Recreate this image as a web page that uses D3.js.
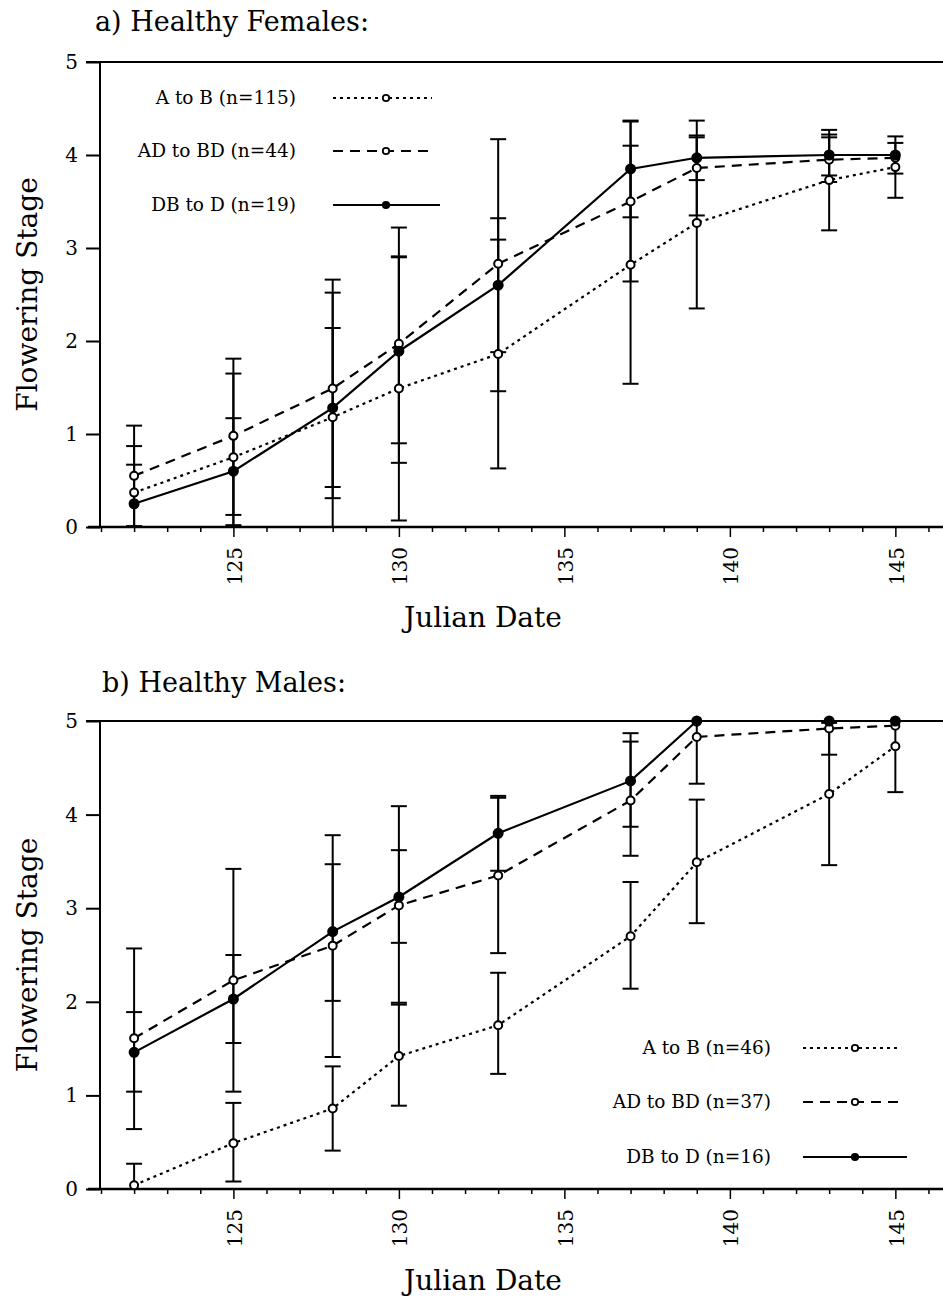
<!DOCTYPE html>
<html>
<head>
<meta charset="utf-8">
<script src="https://cdn.jsdelivr.net/npm/d3@7"></script>
<style>
  body { margin: 0; background: #fff; }
  svg text { font-family: "DejaVu Serif", serif; fill: #000; }
</style>
</head>
<body>
<svg id="chart" width="943" height="1301"></svg>
<script>
// Julian dates sampled
const days = [122, 125, 128, 130, 133, 137, 139, 143, 145];
const yTicks = [0, 1, 2, 3, 4, 5];
const xMajor = [125, 130, 135, 140, 145];

// a) Healthy Females: means and error-bar ends
const femAB = [0.37, 0.75, 1.18, 1.49, 1.86, 2.82, 3.27, 3.73, 3.87];
const femABlo = [-0.13, -0.15, -0.16, 0.07, 0.63, 1.54, 2.35, 3.19, 3.54];
const femABhi = [0.87, 1.65, 2.52, 2.91, 3.09, 4.10, 4.19, 4.27, 4.20];
const femAD = [0.55, 0.98, 1.49, 1.97, 2.83, 3.50, 3.86, 3.95, 3.97];
const femADlo = [0.01, 0.13, 0.31, 0.69, 1.46, 2.64, 3.35, 3.71, 3.80];
const femADhi = [1.09, 1.81, 2.66, 3.22, 4.17, 4.36, 4.37, 4.19, 4.13];
const femDB = [0.25, 0.60, 1.28, 1.89, 2.60, 3.85, 3.97, 4.00, 4.00];
const femDBlo = [-0.17, 0.02, 0.43, 0.90, 1.88, 3.33, 3.73, 3.78, 4.00];
const femDBhi = [0.67, 1.17, 2.14, 2.90, 3.32, 4.37, 4.21, 4.22, 4.00];
const femLabels = ["A to B (n=115)", "AD to BD (n=44)", "DB to D (n=19)"];

// b) Healthy Males
const malAB = [0.04, 0.49, 0.86, 1.42, 1.75, 2.70, 3.49, 4.22, 4.73];
const malABlo = [-0.19, 0.08, 0.41, 0.89, 1.23, 2.14, 2.84, 3.46, 4.24];
const malABhi = [0.27, 0.92, 1.31, 1.99, 2.31, 3.28, 4.16, 4.98, 5.22];
const malAD = [1.61, 2.23, 2.60, 3.03, 3.35, 4.15, 4.83, 4.92, 4.95];
const malADlo = [0.64, 1.04, 1.41, 1.97, 2.52, 3.56, 4.33, 4.64, 4.95];
const malADhi = [2.57, 3.42, 3.78, 4.09, 4.18, 4.78, 5.33, 5.20, 4.95];
const malDB = [1.46, 2.03, 2.75, 3.12, 3.80, 4.36, 5.00, 5.00, 5.00];
const malDBlo = [1.04, 1.56, 2.01, 2.63, 3.40, 3.87, 5.00, 5.00, 5.00];
const malDBhi = [1.89, 2.50, 3.47, 3.62, 4.20, 4.87, 5.00, 5.00, 5.00];
const malLabels = ["A to B (n=46)", "AD to BD (n=37)", "DB to D (n=16)"];

// line style per series (dotted / dashed / solid)
const styles = [
  { dash: "3,4", fill: "#fff" },
  { dash: "10,7", fill: "#fff" },
  { dash: null, fill: "#000" }
];

const svg = d3.select("#chart");
svg.append("rect").attr("width", 943).attr("height", 1301).attr("fill", "#fff");

const x = d3.scaleLinear().domain([121, 146.5]).range([101, 945]);

const panels = [
  {
    title: "a) Healthy Females:", titleX: 95, titleY: 31, top: 62, bottom: 527, xTitleY: 627,
    series: [[femAB, femABlo, femABhi], [femAD, femADlo, femADhi], [femDB, femDBlo, femDBhi]],
    labels: femLabels, legTextX: 296, legX0: 333, legX1: 440, legMark: 386, legRows: [98, 151, 205]
  },
  {
    title: "b) Healthy Males:", titleX: 102, titleY: 692, top: 721, bottom: 1189, xTitleY: 1290,
    series: [[malAB, malABlo, malABhi], [malAD, malADlo, malADhi], [malDB, malDBlo, malDBhi]],
    labels: malLabels, legTextX: 771, legX0: 803, legX1: 907, legMark: 855, legRows: [1048, 1102, 1157]
  }
];

panels.forEach(p => {
  const y = d3.scaleLinear().domain([0, 5]).range([p.bottom, p.top]);
  const g = svg.append("g");

  // title
  g.append("text").attr("x", p.titleX).attr("y", p.titleY)
    .style("font-size", "27px").text(p.title);

  // y axis
  const yAxis = g.append("g").attr("transform", `translate(${x(121) - 1},0)`)
    .call(d3.axisLeft(y).tickValues(yTicks).tickSize(14).tickPadding(8).tickFormat(d3.format("d")));
  yAxis.select(".domain").remove();
  yAxis.selectAll(".tick line").attr("stroke", "#000").attr("stroke-width", 2);
  yAxis.selectAll(".tick text").style("font-size", "20px").style("font-family", "DejaVu Serif");
  g.append("line").attr("x1", x(121) - 1).attr("x2", x(121) - 1)
    .attr("y1", p.top).attr("y2", p.bottom).attr("stroke", "#000").attr("stroke-width", 2);

  // top frame line
  g.append("line").attr("x1", 86).attr("x2", 943).attr("y1", p.top).attr("y2", p.top)
    .attr("stroke", "#000").attr("stroke-width", 2);

  // x axis
  const xAxis = g.append("g").attr("transform", `translate(0,${p.bottom})`)
    .call(d3.axisBottom(x).tickValues(d3.range(121, 147)).tickSize(5)
      .tickFormat(d => xMajor.includes(d) ? d : ""));
  xAxis.select(".domain").remove();
  xAxis.selectAll(".tick line").attr("stroke", "#000").attr("stroke-width", 1.5)
    .attr("y2", d => xMajor.includes(d) ? 10 : 5);
  xAxis.selectAll(".tick text")
    .style("font-size", "20px").style("font-family", "DejaVu Serif")
    .attr("text-anchor", "end")
    .attr("dy", null)
    .attr("transform", "translate(8,20) rotate(-90)")
    .attr("x", 0).attr("y", 0);
  g.append("line").attr("x1", 88).attr("x2", 943).attr("y1", p.bottom).attr("y2", p.bottom)
    .attr("stroke", "#000").attr("stroke-width", 2.5);

  // axis titles
  g.append("text").attr("transform", `translate(37,${(p.top + p.bottom) / 2}) rotate(-90)`)
    .attr("text-anchor", "middle").style("font-size", "28px").text("Flowering Stage");
  g.append("text").attr("x", 483).attr("y", p.xTitleY)
    .attr("text-anchor", "middle").style("font-size", "28px").text("Julian Date");

  const clamp = v => Math.max(0, Math.min(5, v));

  // error bars
  p.series.forEach(([mean, lo, hi]) => {
    days.forEach((d, i) => {
      if (lo[i] === hi[i]) return;
      const cx = x(d);
      g.append("line").attr("x1", cx).attr("x2", cx)
        .attr("y1", y(clamp(lo[i]))).attr("y2", y(clamp(hi[i])))
        .attr("stroke", "#000").attr("stroke-width", 2);
      [lo[i], hi[i]].forEach(v => {
        if (v < 0 || v > 5) return;
        g.append("line").attr("x1", cx - 8).attr("x2", cx + 8)
          .attr("y1", y(v)).attr("y2", y(v))
          .attr("stroke", "#000").attr("stroke-width", 2);
      });
    });
  });

  // lines and markers
  const line = d3.line().x((d, i) => x(days[i])).y(d => y(d));
  p.series.forEach(([mean], k) => {
    const st = styles[k];
    g.append("path").datum(mean).attr("d", line)
      .attr("fill", "none").attr("stroke", "#000").attr("stroke-width", 2.2)
      .attr("stroke-dasharray", st.dash);
  });
  p.series.forEach(([mean], k) => {
    const st = styles[k];
    g.selectAll(null).data(mean).enter().append("circle")
      .attr("cx", (d, i) => x(days[i])).attr("cy", d => y(d))
      .attr("r", k === 2 ? 4.5 : 4)
      .attr("fill", st.fill).attr("stroke", "#000").attr("stroke-width", 2);
  });

  // legend
  p.labels.forEach((lab, k) => {
    const st = styles[k];
    const ly = p.legRows[k];
    g.append("text").attr("x", p.legTextX).attr("y", ly + 6)
      .attr("text-anchor", "end").style("font-size", "18.5px").text(lab);
    g.append("line").attr("x1", p.legX0).attr("x2", k === 2 ? p.legX1 : p.legX1 - 8)
      .attr("y1", ly).attr("y2", ly)
      .attr("stroke", "#000").attr("stroke-width", 2).attr("stroke-dasharray", st.dash);
    g.append("circle").attr("cx", p.legMark).attr("cy", ly).attr("r", 3.2)
      .attr("fill", st.fill).attr("stroke", "#000").attr("stroke-width", 1.8);
  });
});
</script>
</body>
</html>
